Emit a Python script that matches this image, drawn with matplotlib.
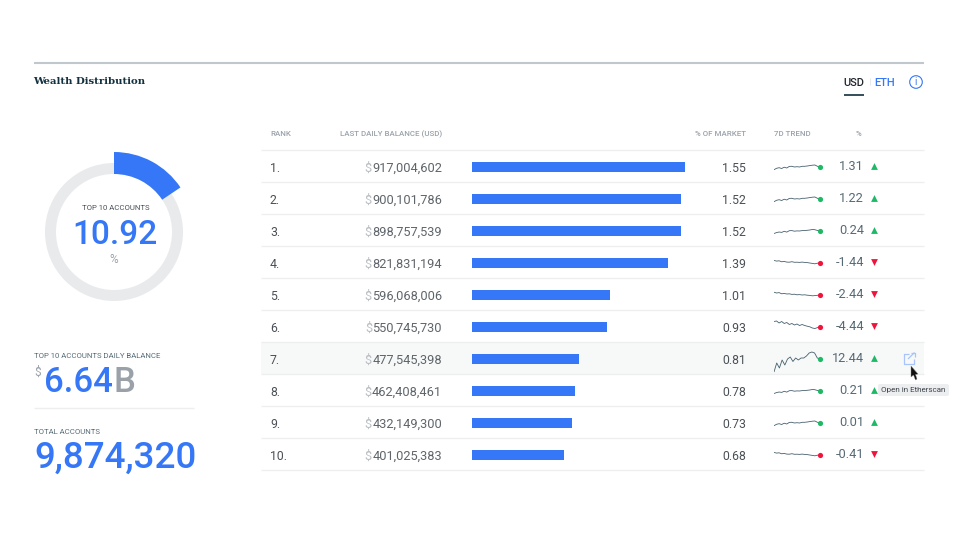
#!/usr/bin/env python3
"""Wealth distribution panel: donut, headline numbers and top-10 table."""

import matplotlib

matplotlib.use("Agg")
import matplotlib.pyplot as plt
from matplotlib.patches import Circle, FancyBboxPatch, Polygon

WIDTH, HEIGHT = 960, 548
BLUE = "#3577f6"
NAVY = "#12303f"
GREEN = "#1fb866"
RED = "#f0143c"
RULE = "#eceef0"
GREY = "#9aa1a9"
SLATE = "#566a76"
FONT = "Roboto"

ranks = ["1.", "2.", "3.", "4.", "5.", "6.", "7.", "8.", "9.", "10."]
balances = [917004602, 900101786, 898757539, 821831194, 596068006,
            550745730, 477545398, 462408461, 432149300, 401025383]
# bar lengths as drawn; they do not follow the balances exactly
bar_lengths = [213, 209, 209, 196, 138, 135, 107, 103, 100, 92]
market_share = ["1.55", "1.52", "1.52", "1.39", "1.01", "0.93", "0.81", "0.78", "0.73", "0.68"]
changes = [1.31, 1.22, 0.24, -1.44, -2.44, -4.44, 12.44, 0.21, 0.01, -0.41]
headers = ["RANK", "LAST DAILY BALANCE (USD)", "% OF MARKET", "7D TREND", "%"]

# ring segment as drawn, which is wider than the printed 10.92
ring_segment = [15.6, 84.4]

trend_up = [-2.7, -1.3, -0.7, -1.5, -0.2, -1.0, 0.6, 0.7, 0.0, 0.3, 0.0, 0.7, 0.7, 1.0, 1.4, 1.8, 2.0, 0.7, 0.0]
trend_flat = [-2.5, -1.6, -1.0, -1.4, -0.3, -1.1, 0.3, 0.4, -0.2, 0.1, 0.0, 0.4, 0.5, 0.7, 1.0, 1.5, 1.3, 0.5, 0.0]
trend_down = [2.6, 1.9, 2.2, 1.2, 1.6, 0.9, 0.8, 1.3, 0.7, 0.8, 0.6, 0.9, 0.6, 0.4, 0.0, -0.4, -0.8, -0.2, 0.0]
trend_down_big = [5.5, 6.0, 4.0, 5.5, 3.5, 4.5, 2.5, 3.5, 2.0, 3.0, 1.5, 2.5, 1.5, 0.8, 0.2, -1.0, -1.5, -0.6, 0.0]
trend_down_mid = [2.8, 2.0, 2.4, 1.2, 1.6, 1.0, 1.2, 0.6, 0.8, 0.2, 0.4, 0.0, 0.2, -0.2, -0.4, -0.8, -0.6, -0.3, 0.0]
trend_spike = [-13.0, -4.0, -9.0, -1.0, -6.0, 0.0, 2.0, -2.5, 1.0, -1.0, 1.0, 1.0, 3.0, 6.0, 7.0, 6.0, 1.0, 0.0]
trends = [trend_up, trend_up, trend_flat, trend_down, trend_down_mid,
          trend_down_big, trend_spike, trend_flat, trend_up, trend_down]


def inset(fig, x, y, w, h):
    """Axes placed by its pixel box, with y measured from the top."""
    ax = fig.add_axes([x / WIDTH, 1 - (y + h) / HEIGHT, w / WIDTH, h / HEIGHT])
    ax.axis("off")
    return ax


def label(ax, x, y, text, size, color, weight="normal", ha="left", **kwargs):
    return ax.text(x, y, text, fontsize=size, color=color, fontweight=weight, ha=ha,
                   va="center", family=kwargs.pop("family", FONT), **kwargs)


def draw_donut(fig):
    ax = inset(fig, 34, 152, 160, 160)
    ax.pie([1], radius=69, colors=["#e8eaec"], wedgeprops={"width": 11}, startangle=90)
    ax.pie(ring_segment, radius=80, colors=[BLUE, "none"], startangle=90,
           counterclock=False, wedgeprops={"width": 22})
    ax.set_xlim(-80, 80)
    ax.set_ylim(-80, 80)


def draw_left(ax):
    label(ax, 115.5, 208.5, "TOP 10 ACCOUNTS", 5.6, "#4a4f55", ha="center")
    label(ax, 115, 235.5, "10.92", 24, BLUE, "medium", ha="center")
    label(ax, 114, 259.5, "%", 8.5, GREY, ha="center")

    label(ax, 34, 356, "TOP 10 ACCOUNTS DAILY BALANCE", 5.6, SLATE)
    label(ax, 34.5, 372, "$", 8.5, GREY)
    big = label(ax, 44, 383, "6.64", 25, BLUE, "medium")
    end = big.get_window_extent(ax.figure.canvas.get_renderer()).x1
    label(ax, end + 1, 383, "B", 25, GREY, "medium")
    ax.plot([34, 194], [408, 408], color=RULE, lw=1)

    label(ax, 34, 431.5, "TOTAL ACCOUNTS", 5.6, SLATE)
    label(ax, 34, 458, "9,874,320", 26.5, BLUE, "medium")


def draw_header(ax):
    ax.plot([34, 924], [63, 63], color="#c0c8cd", lw=1.5)
    label(ax, 33.5, 82, "Wealth Distribution", 7.3, NAVY, "bold", family="DejaVu Serif")
    label(ax, 854, 82.5, "USD", 8, "#20262b", "medium", ha="center")
    ax.plot([844, 864], [94.5, 94.5], color=NAVY, lw=1.2)
    ax.plot([869.5, 869.5], [78, 85], color="#e6e9ec", lw=0.7)
    label(ax, 885, 82.5, "ETH", 8, BLUE, "medium", ha="center")
    ax.add_patch(Circle((916, 82), 6.3, fill=False, ec=BLUE, lw=0.8))
    label(ax, 916, 82, "i", 7, BLUE, ha="center")


def draw_table(fig, ax):
    rows_y = [167 + 32 * i for i in range(len(ranks))]

    ax.fill_between([261, 924], 342, 374, color="#f7f8f8", lw=0)
    for sep in [150 + 32 * i for i in range(len(ranks) + 1)]:
        ax.plot([261, 924], [sep, sep], color=RULE, lw=0.9)

    for x, text, ha in zip([270, 442, 746, 774, 859], headers,
                           ["left", "right", "right", "left", "center"]):
        label(ax, x, 134.5, text, 5.7, GREY, "medium", ha=ha)

    renderer = fig.canvas.get_renderer()
    for i, y in enumerate(rows_y):
        label(ax, 270, y + 1, ranks[i], 8.8, "#4a5055")
        num = label(ax, 442, y + 1, f"{balances[i]:,}", 9.2, "#5f656a", ha="right")
        left = num.get_window_extent(renderer).x0
        label(ax, left - 0.5, y + 1, "$", 9.2, "#b9bec3", ha="right")
        label(ax, 746, y + 1, market_share[i], 8.8, "#4a5055", ha="right")
        label(ax, 864, y - 0.5, f"{changes[i]:.2f}", 9.2, SLATE, ha="right")
        up = changes[i] >= 0
        ax.scatter(874, y - 1, marker="^" if up else "v", s=24,
                   color=GREEN if up else RED, lw=0, zorder=3)

    bars = inset(fig, 472, 151, 213, 320)
    bars.barh(range(len(bar_lengths)), bar_lengths, height=0.34, color=BLUE)
    bars.set_xlim(0, max(bar_lengths))
    bars.set_ylim(len(bar_lengths) - 0.5, -0.5)

    for i, values in enumerate(trends):
        spark = inset(fig, 774, 151 + 32 * i, 46, 32)
        spark.plot(range(len(values)), values, color="#46606d", lw=0.6)
        spark.scatter(len(values) - 1, values[-1], s=14, lw=0, zorder=3, clip_on=False,
                      color=GREEN if changes[i] >= 0 else RED)
        spark.set_xlim(0, len(values) - 1)
        spark.set_ylim(-16, 16)


def draw_hover(ax):
    # external-link icon on the hovered row
    ax.plot([909, 904, 904, 914, 914], [353.5, 353.5, 363.5, 363.5, 358.5],
            color="#a9c4fb", lw=0.9)
    ax.plot([908, 914.5], [359, 352.5], color="#a9c4fb", lw=0.9)
    ax.plot([910.5, 914.5, 914.5], [352.5, 352.5, 356.5], color="#a9c4fb", lw=0.9)

    ax.add_patch(FancyBboxPatch((878, 384), 71, 12, boxstyle="round,pad=0,rounding_size=2",
                                fc="#edeef0", ec="none", zorder=4))
    label(ax, 913.5, 390, "Open in Etherscan", 5.8, "#3c4348", ha="center", zorder=5)
    ax.add_patch(Polygon([(911, 366), (911, 377), (913.5, 375), (915.5, 380),
                          (917, 379), (915.5, 374.5), (918, 374)],
                         fc="#111111", ec="#888888", lw=0.3, zorder=6))


def main():
    plt.rcParams["lines.solid_capstyle"] = "butt"
    fig = plt.figure(figsize=(WIDTH / 100, HEIGHT / 100), dpi=100)
    ax = fig.add_axes([0, 0, 1, 1])
    ax.set_xlim(0, WIDTH)
    ax.set_ylim(HEIGHT, 0)
    ax.axis("off")

    draw_header(ax)
    draw_donut(fig)
    draw_left(ax)
    draw_table(fig, ax)
    draw_hover(ax)

    fig.savefig("out.png", dpi=100)
    plt.close(fig)


if __name__ == "__main__":
    main()
